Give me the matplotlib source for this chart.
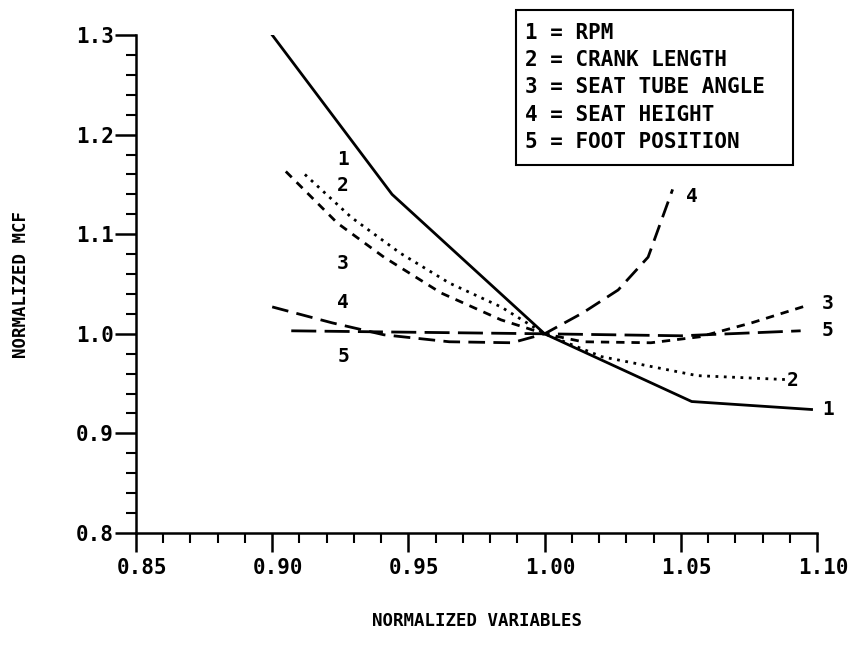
import matplotlib.pyplot as plt
from matplotlib.ticker import MultipleLocator, FormatStrFormatter
from matplotlib.patches import Rectangle
from matplotlib.transforms import ScaledTranslation

plt.rcParams['font.family'] = ['DejaVu Sans Mono']
plt.rcParams['font.weight'] = 'bold'

# curve data (normalized variable, normalized MCF)
rpm_x = [0.900, 0.944, 1.000, 1.054, 1.098]
rpm_y = [1.300, 1.140, 1.000, 0.932, 0.924]

crank_x = [0.912, 0.929, 0.947, 0.965, 0.984, 1.000, 1.021, 1.056, 1.089]
crank_y = [1.160, 1.117, 1.081, 1.051, 1.027, 1.000, 0.977, 0.958, 0.954]

seat_tube_x = [0.905, 0.924, 0.941, 0.962, 0.984, 1.000, 1.014, 1.039, 1.057, 1.076, 1.097]
seat_tube_y = [1.163, 1.111, 1.077, 1.041, 1.014, 1.000, 0.992, 0.991, 0.997, 1.011, 1.029]

seat_h_x = [0.900, 0.922, 0.941, 0.965, 0.988, 1.000, 1.014, 1.027, 1.038, 1.047]
seat_h_y = [1.027, 1.011, 0.999, 0.992, 0.991, 1.000, 1.021, 1.044, 1.077, 1.145]

foot_x = [0.907, 1.000, 1.050, 1.094]
foot_y = [1.003, 1.000, 0.998, 1.003]

legend_lines = ['1 = RPM', '2 = CRANK LENGTH', '3 = SEAT TUBE ANGLE',
                '4 = SEAT HEIGHT', '5 = FOOT POSITION']

W, H = 850, 660
fig = plt.figure(figsize=(8.5, 6.6), dpi=100)
ax = fig.add_axes([136 / W, 1 - 533 / H, 681 / W, 498 / H])

lw = 2.0
ax.plot(rpm_x, rpm_y, color='black', lw=lw, linestyle='-')
ax.plot(crank_x, crank_y, color='black', lw=lw, linestyle=(0, (1, 2)))
ax.plot(seat_tube_x, seat_tube_y, color='black', lw=lw, linestyle=(0, (3, 2.5)))
ax.plot(seat_h_x, seat_h_y, color='black', lw=lw, linestyle=(0, (6, 3)))
ax.plot(foot_x, foot_y, color='black', lw=lw, linestyle=(0, (9, 3)))

# curve number labels
lab = dict(fontsize=14, ha='center', va='center')
ax.text(0.926, 1.175, '1', **lab)
ax.text(0.926, 1.149, '2', **lab)
ax.text(0.926, 1.071, '3', **lab)
ax.text(0.926, 1.031, '4', **lab)
ax.text(0.926, 0.977, '5', **lab)
ax.text(1.054, 1.138, '4', **lab)
ax.text(1.104, 1.030, '3', **lab)
ax.text(1.104, 1.003, '5', **lab)
ax.text(1.091, 0.953, '2', **lab)
ax.text(1.104, 0.924, '1', **lab)

# legend box
fig.patches.append(Rectangle((516 / W, 1 - 165 / H), 277 / W, 155 / H,
                             transform=fig.transFigure, facecolor='white',
                             edgecolor='black', linewidth=1.5, zorder=3))
for i, line in enumerate(legend_lines):
    fig.text(525 / W, 1 - (33 + 27.2 * i) / H, line, ha='left', va='center',
             fontsize=15, zorder=4)

ax.set_xlim(0.85, 1.10)
ax.set_ylim(0.8, 1.3)
ax.xaxis.set_major_locator(MultipleLocator(0.05))
ax.xaxis.set_minor_locator(MultipleLocator(0.01))
ax.yaxis.set_major_locator(MultipleLocator(0.1))
ax.yaxis.set_minor_locator(MultipleLocator(0.02))
ax.xaxis.set_major_formatter(FormatStrFormatter('%.2f'))
ax.yaxis.set_major_formatter(FormatStrFormatter('%.1f'))

for s in ['top', 'right']:
    ax.spines[s].set_visible(False)
for s in ['left', 'bottom']:
    ax.spines[s].set_linewidth(1.8)

ax.tick_params(axis='both', which='major', direction='out', width=1.8, labelsize=15)
ax.tick_params(axis='both', which='minor', direction='out', width=1.5)
ax.tick_params(axis='x', which='major', length=14, pad=4)
ax.tick_params(axis='x', which='minor', length=7)
ax.tick_params(axis='y', which='major', length=15, pad=1)
ax.tick_params(axis='y', which='minor', length=7)

# x tick labels sit a little right of their ticks in the original
shift = ScaledTranslation(6 / 100, 0, fig.dpi_scale_trans)
for t in ax.get_xticklabels():
    t.set_transform(t.get_transform() + shift)

ax.set_xlabel('NORMALIZED VARIABLES', fontsize=12.5, fontweight='bold')
ax.set_ylabel('NORMALIZED MCF', fontsize=12.5, fontweight='bold')
ax.xaxis.set_label_coords(0.5, (533 - 612) / 498)
ax.yaxis.set_label_coords((30 - 136) / 681, 0.5)

fig.savefig('out.png', dpi=100)
